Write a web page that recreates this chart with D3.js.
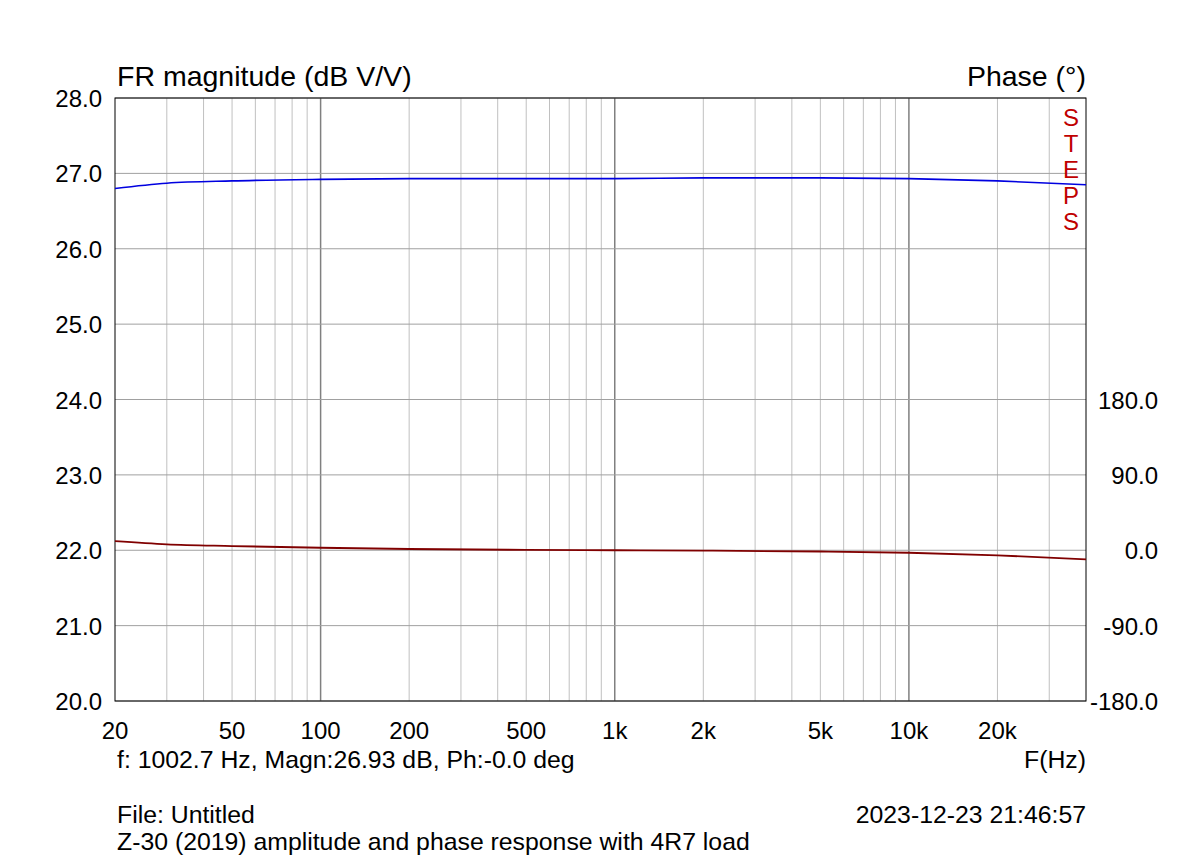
<!DOCTYPE html>
<html><head><meta charset="utf-8">
<script src="https://cdn.jsdelivr.net/npm/d3@7"></script>
<style>body{margin:0;background:#fff}svg{font-family:Arial,"Liberation Sans",sans-serif}</style>
</head><body>
<script>
const freqs = [20, 30, 50, 100, 200, 500, 1000, 2000, 5000, 10000, 20000, 40000];
const magnitude = [26.80, 26.87, 26.90, 26.92, 26.93, 26.93, 26.93, 26.94, 26.94, 26.93, 26.90, 26.85];
const phase = [10.8, 7, 5, 3, 1.5, 0.5, 0, -0.5, -1.5, -3, -6, -11];
const xTicks = [20, 50, 100, 200, 500, 1000, 2000, 5000, 10000, 20000];
const xTickLabels = ["20", "50", "100", "200", "500", "1k", "2k", "5k", "10k", "20k"];
const yTicks = [20, 21, 22, 23, 24, 25, 26, 27, 28];
const phaseTicks = [-180, -90, 0, 90, 180];

const W = 1200, H = 860;
const m = { left: 115, right: 1086, top: 98, bottom: 701 };
const svg = d3.select("body").append("svg").attr("width", W).attr("height", H);

const x = d3.scaleLog().domain([20, 40000]).range([m.left, m.right]);
const y = d3.scaleLinear().domain([20, 28]).range([m.bottom, m.top]);
const yp = d3.scaleLinear().domain([-180, 540]).range([m.bottom, m.top]);

// minor grid lines
const minor = [];
for (let d = 10; d <= 10000; d *= 10)
  for (let k = 1; k <= 9; k++) { const f = d * k; if (f > 20 && f < 40000) minor.push(f); }
svg.selectAll(".vg").data(minor).join("line")
  .attr("x1", d => x(d)).attr("x2", d => x(d)).attr("y1", m.top).attr("y2", m.bottom)
  .attr("stroke", d => [100, 1000, 10000].includes(d) ? "#808080" : "#c0c0c0")
  .attr("stroke-width", d => [100, 1000, 10000].includes(d) ? 1.5 : 1);
svg.selectAll(".hg").data(yTicks).join("line")
  .attr("x1", m.left).attr("x2", m.right).attr("y1", d => y(d)).attr("y2", d => y(d))
  .attr("stroke", "#a0a0a0");
svg.append("rect").attr("x", m.left).attr("y", m.top).attr("width", m.right - m.left)
  .attr("height", m.bottom - m.top).attr("fill", "none").attr("stroke", "#000");

const fs = "24px";
svg.selectAll(".yl").data(yTicks).join("text")
  .attr("x", m.left - 13).attr("y", d => y(d) + 9).attr("text-anchor", "end")
  .attr("font-size", fs).text(d => d.toFixed(1));
svg.selectAll(".pl").data(phaseTicks).join("text")
  .attr("x", m.right + 72).attr("y", d => yp(d) + 9).attr("text-anchor", "end")
  .attr("font-size", fs).text(d => d.toFixed(1));
svg.selectAll(".xl").data(xTicks).join("text")
  .attr("x", d => x(d)).attr("y", m.bottom + 38).attr("text-anchor", "middle")
  .attr("font-size", fs).text((d, i) => xTickLabels[i]);

svg.append("text").attr("x", 117).attr("y", 86).attr("font-size", "28.5px").text("FR magnitude (dB V/V)");
svg.append("text").attr("x", 1086).attr("y", 86).attr("font-size", "28.5px").attr("text-anchor", "end").text("Phase (°)");
["S", "T", "E", "P", "S"].forEach((c, i) =>
  svg.append("text").attr("x", 1071).attr("y", 126 + i * 26).attr("font-size", "24px")
    .attr("text-anchor", "middle").attr("fill", "#c00000").text(c));

const line = d3.line().curve(d3.curveMonotoneX);
svg.append("path").attr("d", line(freqs.map((f, i) => [x(f), y(magnitude[i])])))
  .attr("fill", "none").attr("stroke", "#0000e0").attr("stroke-width", 1.6);
svg.append("path").attr("d", line(freqs.map((f, i) => [x(f), yp(phase[i])])))
  .attr("fill", "none").attr("stroke", "#800000").attr("stroke-width", 1.8);

const fb = "24.8px";
svg.append("text").attr("x", 117).attr("y", 768).attr("font-size", fb).text("f: 1002.7 Hz, Magn:26.93 dB, Ph:-0.0 deg");
svg.append("text").attr("x", 1086).attr("y", 768).attr("font-size", fb).attr("text-anchor", "end").text("F(Hz)");
svg.append("text").attr("x", 117).attr("y", 823).attr("font-size", fb).text("File: Untitled");
svg.append("text").attr("x", 1086).attr("y", 823).attr("font-size", fb).attr("text-anchor", "end").text("2023-12-23 21:46:57");
svg.append("text").attr("x", 117).attr("y", 850).attr("font-size", fb).text("Z-30 (2019) amplitude and phase response with 4R7 load");
</script>
</body></html>
